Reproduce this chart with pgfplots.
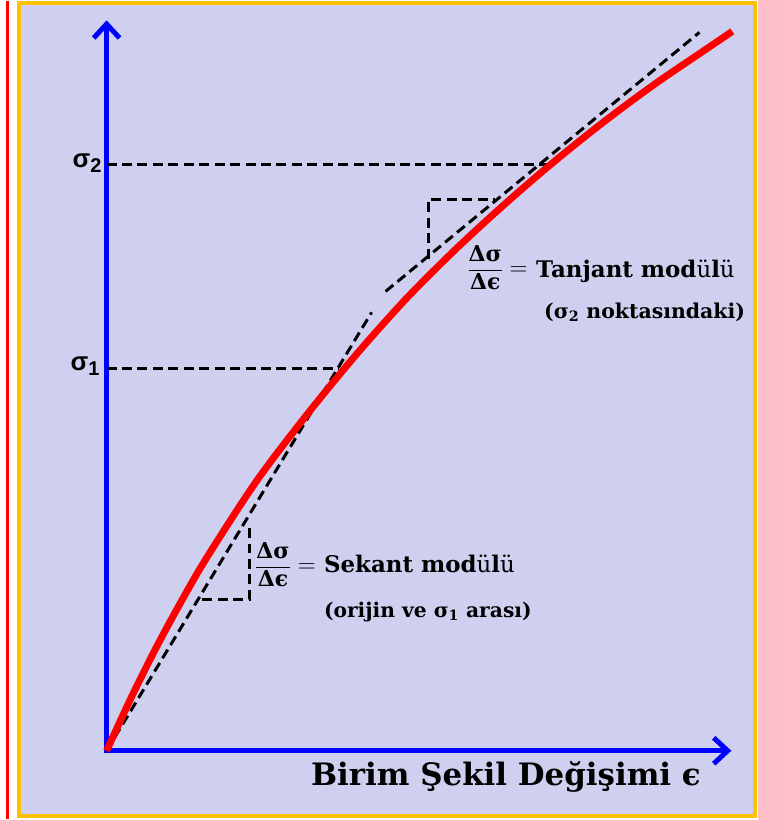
\documentclass[border=0pt]{standalone}
\usepackage{amsmath}
\usepackage{pgfplots}
\pgfplotsset{compat=1.18}
\usepackage{fontspec}
\setmainfont{DejaVu Serif}
\newfontfamily\sigfont{Liberation Sans}
\usetikzlibrary{arrows.meta}
\definecolor{lav}{RGB}{207,207,239}
\definecolor{frameor}{RGB}{255,192,0}
\newcommand{\dsde}{$\displaystyle\frac{\text{\bfseries Δσ}}{\text{\bfseries Δϵ}}$}
\begin{document}
\begin{tikzpicture}
\begin{axis}[
  scale only axis, width=760pt, height=820pt,
  xmin=-107, xmax=653, ymin=-68, ymax=752,
  hide axis, clip=false,
  dashed line/.style={black, line width=3pt, dash pattern=on 10pt off 5.5pt},
]
% page background and frame
\addplot[fill=white, draw=none] coordinates {(-107,-68) (653,-68) (653,752) (-107,752)} -- cycle;
\addplot[draw=red, line width=3pt] coordinates {(-99,-68) (-99,752)};
\addplot[fill=lav, draw=frameor, line width=4pt] coordinates {(-88,-65) (651,-65) (651,750) (-88,750)} -- cycle;
% axes
\addplot[blue, line width=5pt, -{Straight Barb[length=14pt,width=26pt]}] coordinates {(0,-2.5) (0,733)};
\addplot[blue, line width=5pt, -{Straight Barb[length=14pt,width=26pt]}] coordinates {(-2.5,0) (627,0)};
% level lines
\addplot[dashed line] coordinates {(0,384) (233,384)};
\addplot[dashed line] coordinates {(0,588) (445,588)};
% secant line and triangle
\addplot[dashed line] coordinates {(0,0) (266,440)};
\addplot[dashed line] coordinates {(96,152) (143,152) (143,227)};
% tangent line and triangle
\addplot[dashed line] coordinates {(280,461) (595,721)};
\addplot[dashed line] coordinates {(323,494) (323,553) (390,553)};
% stress-strain curve
\addplot[red, line width=7pt, smooth] coordinates {
(0,0) (25,54) (50,104) (75,150) (100,193) (150,270) (200,336) (250,397)
(300,453) (350,503) (400,549) (450,592) (500,632) (550,669) (600,703) (628,722)};
% labels
\node[anchor=base east, inner sep=0] at (axis cs:-5,585) {\sigfont\bfseries\fontsize{26}{26}\selectfont σ\raisebox{-5pt}{\fontsize{20}{20}\selectfont 2}};
\node[anchor=base east, inner sep=0] at (axis cs:-7,382) {\sigfont\bfseries\fontsize{26}{26}\selectfont σ\raisebox{-5pt}{\fontsize{20}{20}\selectfont 1}};
% secant label
\node[anchor=base, inner sep=0] at (axis cs:167,179) {\fontsize{22}{26}\selectfont\dsde};
\node[anchor=base, inner sep=0] at (axis cs:201,179) {\fontsize{24}{26}\selectfont$=$};
\node[anchor=base west, inner sep=0] at (axis cs:218,179) {\fontsize{23}{26}\selectfont\bfseries Sekant mod\mdseries ü\bfseries l\mdseries ü};
\node[anchor=base west, inner sep=0] at (axis cs:218,134) {\fontsize{20.3}{24}\selectfont\bfseries (orijin ve σ\textsubscript{1} arası)};
% tangent label
\node[anchor=base, inner sep=0] at (axis cs:380,477) {\fontsize{22}{26}\selectfont\dsde};
\node[anchor=base, inner sep=0] at (axis cs:413.5,477) {\fontsize{24}{26}\selectfont$=$};
\node[anchor=base west, inner sep=0] at (axis cs:431,475) {\fontsize{23}{26}\selectfont\bfseries Tanjant mod\mdseries ü\bfseries l\mdseries ü};
\node[anchor=base west, inner sep=0] at (axis cs:439,434) {\fontsize{20.5}{24}\selectfont\bfseries (σ\textsubscript{2} noktasındaki)};
% x axis title
\node[anchor=base west, inner sep=0] at (axis cs:205,-35) {\fontsize{31}{34}\selectfont\bfseries Birim Şekil Değişimi ϵ};
\end{axis}
\end{tikzpicture}
\end{document}
